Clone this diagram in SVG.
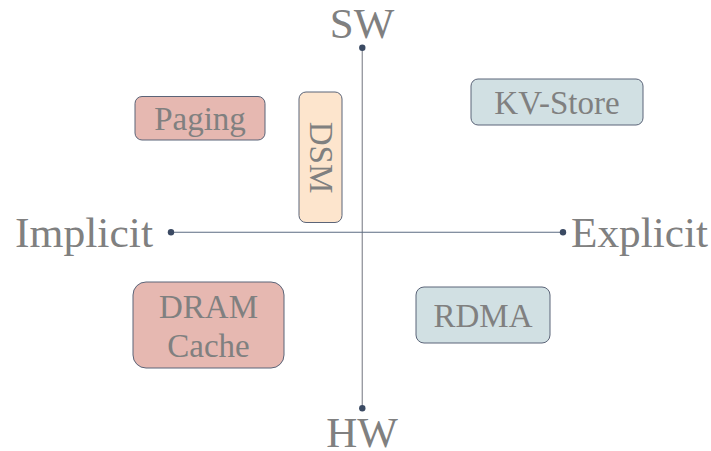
<svg xmlns="http://www.w3.org/2000/svg" width="711" height="451" viewBox="0 0 711 451">
<style>
text{font-family:"Liberation Serif","DejaVu Serif",serif;fill:#808080}
.axl{font-size:43px}
.nl{font-size:33px;text-anchor:middle}
.box{stroke:#5b6478;stroke-width:1}
.red{fill:#e6b8b1}
.peach{fill:#fde5cd}
.blue{fill:#d1e0e3}
.dot{fill:#3b4a63}
</style>
<rect width="711" height="451" fill="#fff"/>
<g id="axes">
<line x1="362.3" y1="47.7" x2="362.3" y2="408.3" stroke="#9a9ca3" stroke-width="1.4"/>
<line x1="171" y1="232.3" x2="563" y2="232.3" stroke="#5b6b82" stroke-width="1.1"/>
<circle class="dot" cx="362.3" cy="47.7" r="3.2"/>
<circle class="dot" cx="362.3" cy="408.3" r="3.2"/>
<circle class="dot" cx="171" cy="232.3" r="3.2"/>
<circle class="dot" cx="563" cy="232.3" r="3.2"/>
</g>
<g id="labels">
<text class="axl" x="362" y="37.5" text-anchor="middle">SW</text>
<text class="axl" x="362" y="446.5" text-anchor="middle">HW</text>
<text class="axl" x="153" y="247" text-anchor="end" textLength="138" lengthAdjust="spacingAndGlyphs">Implicit</text>
<text class="axl" x="571" y="247" textLength="137" lengthAdjust="spacingAndGlyphs">Explicit</text>
</g>
<g id="paging">
<rect class="box red" x="135" y="96.5" width="130" height="43.5" rx="7"/>
<text class="nl" x="200" y="130">Paging</text>
</g>
<g id="dsm">
<rect class="box peach" x="299" y="92" width="43" height="130.5" rx="7"/>
<text class="nl" transform="translate(309.5,157.5) rotate(90)" x="0" y="0">DSM</text>
</g>
<g id="kvstore">
<rect class="box blue" x="471" y="79" width="172" height="46" rx="7"/>
<text class="nl" x="557" y="114">KV-Store</text>
</g>
<g id="rdma">
<rect class="box blue" x="416" y="287" width="134" height="56" rx="8"/>
<text class="nl" x="483" y="327">RDMA</text>
</g>
<g id="dramcache">
<rect class="box red" x="133" y="282" width="151" height="86" rx="13"/>
<text class="nl" x="208.5" y="318">DRAM</text>
<text class="nl" x="208.5" y="357">Cache</text>
</g>
</svg>
